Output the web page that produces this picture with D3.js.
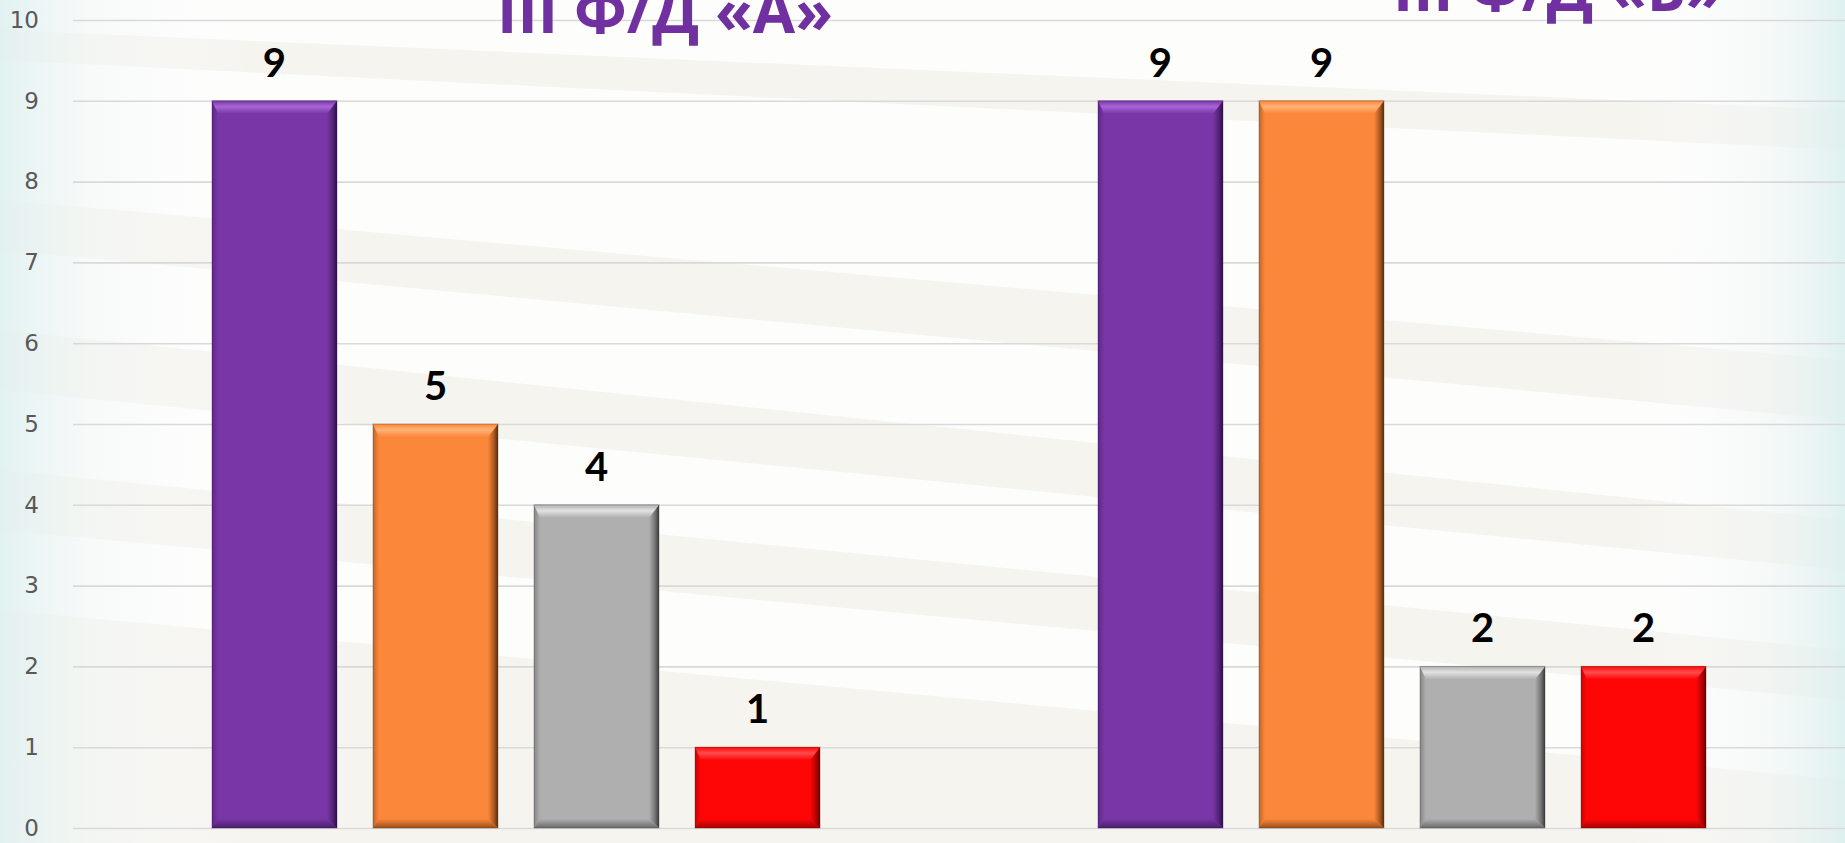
<!DOCTYPE html>
<html>
<head>
<meta charset="utf-8">
<script src="https://cdn.jsdelivr.net/npm/d3@7"></script>
<style>
  html, body { margin: 0; padding: 0; background: #fbfaf8; overflow: hidden; }
  svg { display: block; }
</style>
</head>
<body>
<svg id="chart" width="1845" height="843"></svg>
<script>
// ---- data ----
const categories = ["III Ф/Д «А»", "III Ф/Д «Б»"];
const seriesNames = ["Ряд 1", "Ряд 2", "Ряд 3", "Ряд 4"];
const valuesA = [9, 5, 4, 1];
const valuesB = [9, 9, 2, 2];
const yTicks = [0, 1, 2, 3, 4, 5, 6, 7, 8, 9, 10];
const titles = ["III Ф/Д «А»", "III Ф/Д «Б»"];

const seriesColors = ["#7836a6", "#fb873a", "#afafaf", "#ff0606"];
const seriesLight  = ["#a865d6", "#ffb276", "#e2e2e2", "#ff4d4d"];
const seriesDark   = ["#2c0f45", "#5a2a08", "#3a3a3a", "#6a0000"];

const W = 1845, H = 843;
const svg = d3.select("#chart");
const defs = svg.append("defs");

// ---- background ----
const bgGrad = defs.append("linearGradient").attr("id", "bgEdge").attr("x1", 0).attr("x2", 1).attr("y1", 0).attr("y2", 0);
bgGrad.append("stop").attr("offset", 0).attr("stop-color", "#dff0f0").attr("stop-opacity", 0.9);
bgGrad.append("stop").attr("offset", 0.05).attr("stop-color", "#f0f7f6").attr("stop-opacity", 0.5);
bgGrad.append("stop").attr("offset", 0.14).attr("stop-color", "#ffffff").attr("stop-opacity", 0);
bgGrad.append("stop").attr("offset", 0.88).attr("stop-color", "#ffffff").attr("stop-opacity", 0);
bgGrad.append("stop").attr("offset", 0.96).attr("stop-color", "#ecf5f4").attr("stop-opacity", 0.5);
bgGrad.append("stop").attr("offset", 1).attr("stop-color", "#dcefef").attr("stop-opacity", 0.9);

svg.append("rect").attr("width", W).attr("height", H).attr("fill", "#fdfdfc");
const stripes = [
  [[0, 30], [1845, 110], [1845, 150], [0, 60]],
  [[0, 200], [1845, 360], [1845, 420], [0, 250]],
  [[0, 330], [1845, 520], [1845, 570], [0, 390]],
  [[0, 470], [1845, 650], [1845, 700], [0, 530]],
  [[0, 610], [1845, 780], [1845, 843], [0, 843]]
];
svg.append("g").selectAll("path").data(stripes).join("path")
  .attr("d", d => d3.line()(d) + "Z")
  .attr("fill", "#f2efea").attr("opacity", 0.7);
svg.append("rect").attr("width", W).attr("height", H).attr("fill", "url(#bgEdge)");

// ---- scales ----
const plotLeft = 73, plotRight = 1845, plotTop = 20, plotBottom = 828;
const y = d3.scaleLinear().domain([0, 10]).range([plotBottom, plotTop]);
const x0 = d3.scaleBand().domain(categories).range([plotLeft, plotRight]).paddingInner(0).paddingOuter(0);
const bw0 = x0.bandwidth();
const groupPad = 139;
const x1 = d3.scaleBand().domain(seriesNames).range([groupPad, bw0 - groupPad]).paddingInner(0.224).paddingOuter(0);

// ---- grid + y axis ----
const yAxis = d3.axisLeft(y).tickValues(yTicks).tickSize(-(plotRight - plotLeft)).tickPadding(34).tickFormat(d3.format("d"));
const gAxis = svg.append("g").attr("transform", `translate(${plotLeft},0)`).call(yAxis);
gAxis.select(".domain").remove();
gAxis.selectAll(".tick line").attr("stroke", "#d9d9d9").attr("stroke-width", 1.6);
gAxis.selectAll(".tick text")
  .attr("fill", "#595959")
  .style("font-family", "'DejaVu Sans', sans-serif")
  .style("font-size", "23px");

// ---- bars ----
const rows = [];
categories.forEach((c, ci) => {
  const vals = ci === 0 ? valuesA : valuesB;
  seriesNames.forEach((s, si) => rows.push({ cat: c, series: s, si, value: vals[si] }));
});

seriesColors.forEach((col, i) => {
  const top = defs.append("linearGradient").attr("id", "top" + i).attr("x1", 0).attr("x2", 0).attr("y1", 0).attr("y2", 1);
  top.append("stop").attr("offset", 0).attr("stop-color", col);
  top.append("stop").attr("offset", 0.45).attr("stop-color", seriesLight[i]);
  top.append("stop").attr("offset", 1).attr("stop-color", col);
  const right = defs.append("linearGradient").attr("id", "right" + i).attr("x1", 0).attr("x2", 1).attr("y1", 0).attr("y2", 0);
  right.append("stop").attr("offset", 0).attr("stop-color", col);
  right.append("stop").attr("offset", 0.6).attr("stop-color", d3.interpolateRgb(col, seriesDark[i])(0.5));
  right.append("stop").attr("offset", 1).attr("stop-color", seriesDark[i]);
  const bottom = defs.append("linearGradient").attr("id", "bottom" + i).attr("x1", 0).attr("x2", 0).attr("y1", 0).attr("y2", 1);
  bottom.append("stop").attr("offset", 0).attr("stop-color", col);
  bottom.append("stop").attr("offset", 1).attr("stop-color", d3.interpolateRgb(col, seriesDark[i])(0.6));
  const left = defs.append("linearGradient").attr("id", "left" + i).attr("x1", 0).attr("x2", 1).attr("y1", 0).attr("y2", 0);
  left.append("stop").attr("offset", 0).attr("stop-color", d3.interpolateRgb(col, seriesDark[i])(0.35));
  left.append("stop").attr("offset", 1).attr("stop-color", col);
});

const gBars = svg.append("g");
const bars = gBars.selectAll("g.bar").data(rows).join("g").attr("class", "bar");
bars.each(function(d) {
  const g = d3.select(this);
  const bx = x0(d.cat) + x1(d.series);
  const bwid = x1.bandwidth();
  const by = y(d.value);
  const bh = y(0) - y(d.value);
  const bt = 13, br = 10, bb = 9, bl = 6;
  const X0 = bx, X1 = bx + bwid, Y0 = by, Y1 = by + bh;
  g.append("rect").attr("x", X0).attr("y", Y0).attr("width", bwid).attr("height", bh)
    .attr("fill", seriesColors[d.si]);
  const poly = (pts, fill) => g.append("path").attr("d", d3.line()(pts) + "Z").attr("fill", fill);
  poly([[X0, Y0], [X0 + bl, Y0 + bt], [X0 + bl, Y1 - bb], [X0, Y1]], `url(#left${d.si})`);
  poly([[X1, Y0], [X1, Y1], [X1 - br, Y1 - bb], [X1 - br, Y0 + bt]], `url(#right${d.si})`);
  poly([[X0, Y1], [X0 + bl, Y1 - bb], [X1 - br, Y1 - bb], [X1, Y1]], `url(#bottom${d.si})`);
  poly([[X0, Y0], [X1, Y0], [X1 - br, Y0 + bt], [X0 + bl, Y0 + bt]], `url(#top${d.si})`);
  g.append("rect").attr("x", X0).attr("y", Y0).attr("width", bwid).attr("height", bh)
    .attr("fill", "none").attr("stroke", seriesDark[d.si]).attr("stroke-opacity", 0.35).attr("stroke-width", 1);
});

// ---- data labels ----
svg.append("g").selectAll("text").data(rows).join("text")
  .attr("x", d => x0(d.cat) + x1(d.series) + x1.bandwidth() / 2)
  .attr("y", d => y(d.value) - 24)
  .attr("text-anchor", "middle")
  .style("font-family", "Lato, 'Open Sans', sans-serif")
  .style("font-weight", 700)
  .style("font-size", "40px")
  .attr("fill", "#000000")
  .text(d => d.value);

// ---- titles ----
const titlePos = [{ cx: 665, base: 33, w: 336 }, { cx: 1558, base: 11, w: 330 }];
const tg = svg.append("g");
titles.forEach((t, i) => {
  const el = tg.append("text")
    .attr("x", titlePos[i].cx).attr("y", titlePos[i].base)
    .attr("text-anchor", "middle")
    .style("font-family", "'Open Sans', sans-serif")
    .style("font-weight", 700)
    .style("font-size", "50px")
    .attr("fill", "#7030a0")
    .text(t);
  const len = el.node().getComputedTextLength();
  el.style("font-size", (50 * titlePos[i].w / len).toFixed(1) + "px");
});
</script>
</body>
</html>
